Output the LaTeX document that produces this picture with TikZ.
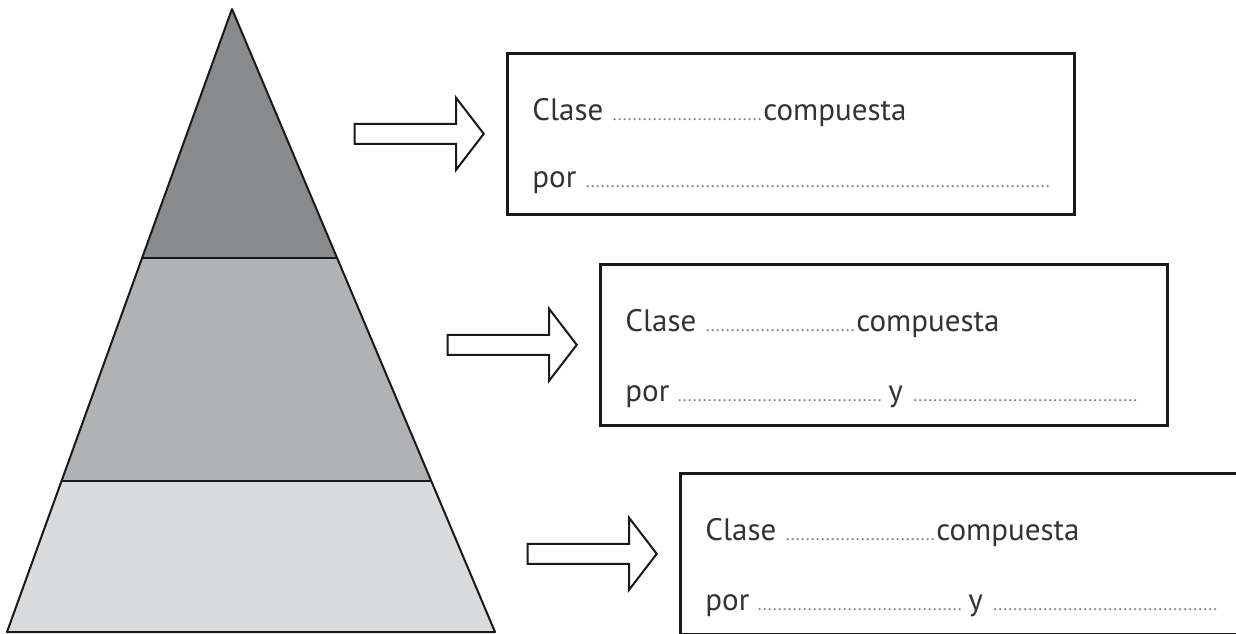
\documentclass[tikz,border=0pt]{standalone}
\usepackage{fontspec}
\setmainfont{PT Sans}
\usetikzlibrary{positioning,calc,shapes.arrows}

\definecolor{tierdark}{HTML}{898A8C}
\definecolor{tiermid}{HTML}{B1B2B4}
\definecolor{tierlight}{HTML}{D9DADC}
\definecolor{inkgray}{HTML}{333333}

\newcommand{\puntos}[1]{{\color{gray}\hbox to #1{\leaders\hbox to 2.5pt{\hss\fontsize{9}{9}\selectfont.\hss}\hfill}}}

\begin{document}
\begin{tikzpicture}[
x = 0.5pt, y = -0.5pt,
node distance = 10.5pt,
every node/.style = {
	font = \fontsize{15.5}{18}\selectfont,
	text = inkgray
},
tier/.style = {
	draw = black!90,
	line width = 1pt,
	line join = round
},
answerbox/.style = {
	draw = black!90,
	line width = 1.3pt,
	minimum width = 283.5pt,
	minimum height = 80.5pt,
	inner sep = 0pt,
	anchor = north west
},
bigarrow/.style = {
	single arrow,
	draw = black!90,
	fill = white,
	line width = 1pt,
	minimum height = 64.5pt,
	minimum width = 35pt,
	single arrow tip angle = 105,
	single arrow head extend = 13pt,
	inner xsep = 0pt,
	inner ysep = 4.5pt
},
fillin/.style = {
	anchor = base west,
	inner sep = 0pt
}
]

\useasboundingbox (0,0) rectangle (1236,633);

% piramide
\coordinate (apex)	at (232,9);
\coordinate (baseL)	at (7,632);
\coordinate (baseR)	at (495,632);
\coordinate (midL)	at ($(apex)!0.40!(baseL)$);
\coordinate (midR)	at ($(apex)!0.40!(baseR)$);
\coordinate (lowL)	at ($(apex)!0.757!(baseL)$);
\coordinate (lowR)	at ($(apex)!0.757!(baseR)$);

\fill[tierdark] (apex) -- (midR) -- (midL) -- cycle;
\fill[tiermid] (midL) -- (midR) -- (lowR) -- (lowL) -- cycle;
\fill[tierlight] (lowL) -- (lowR) -- (baseR) -- (baseL) -- cycle;
\draw[tier] (apex) -- (baseR) -- (baseL) -- cycle;
\draw[tier] (midL) -- (midR);
\draw[tier] (lowL) -- (lowR);

\node[answerbox]	(box1)	at (506,52)	{};
\node[answerbox]	(box2)	at (599,263)	{};
\node[answerbox]	(box3)	at (679,472)	{};

\node[bigarrow, left=of box1]	(arr1)	{};
\node[bigarrow, left=of box2]	(arr2)	{};
\node[bigarrow, left=of box3]	(arr3)	{};

\node[fillin] (clase1) at ($(box1.north west)+(26,68)$) {Clase\hspace{4.5pt}\puntos{75pt}\hspace{0.5pt}compuesta};
\node[fillin] (por1) at ($(box1.north west)+(26,135)$) {por\hspace{4.5pt}\puntos{233pt}};

\node[fillin] (clase2) at ($(box2.north west)+(26,68)$) {Clase\hspace{4.5pt}\puntos{75pt}\hspace{0.5pt}compuesta};
\node[fillin] (por2) at ($(box2.north west)+(26,138)$) {por\hspace{4pt}\puntos{104pt}\hspace{1.5pt}y\hspace{5pt}\puntos{113.5pt}};

\node[fillin] (clase3) at ($(box3.north west)+(26,68)$) {Clase\hspace{4.5pt}\puntos{75pt}\hspace{0.5pt}compuesta};
\node[fillin] (por3) at ($(box3.north west)+(26,138)$) {por\hspace{4pt}\puntos{104pt}\hspace{1.5pt}y\hspace{5pt}\puntos{113.5pt}};
\end{tikzpicture}
\end{document}
